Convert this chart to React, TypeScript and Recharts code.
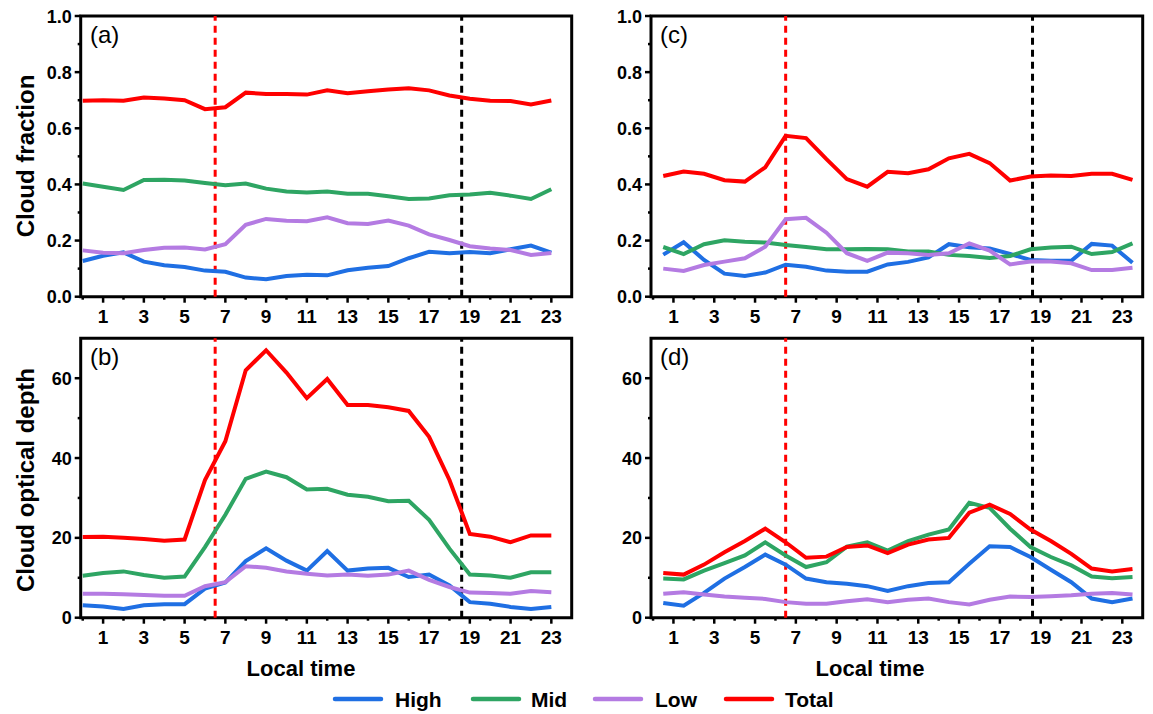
import React from "react";
import { Line, LineChart, ReferenceArea, ReferenceLine, XAxis, YAxis } from "recharts";

const PAGE_W = 1153;
const PAGE_H = 714;
const FONT = "'Liberation Sans', Arial, sans-serif";

const hoursWhole = [0, 1, 2, 3, 4, 5, 6, 7, 8, 9, 10, 11, 12, 13, 14, 15, 16, 17, 18, 19, 20, 21, 22, 23];
const hoursHalf = [0.5, 1.5, 2.5, 3.5, 4.5, 5.5, 6.5, 7.5, 8.5, 9.5, 10.5, 11.5, 12.5, 13.5, 14.5, 15.5, 16.5, 17.5, 18.5, 19.5, 20.5, 21.5, 22.5, 23.5];
const hourTicks = [0, 1, 2, 3, 4, 5, 6, 7, 8, 9, 10, 11, 12, 13, 14, 15, 16, 17, 18, 19, 20, 21, 22, 23];
const fractionTicks = [0, 0.1, 0.2, 0.3, 0.4, 0.5, 0.6, 0.7, 0.8, 0.9, 1.0];
const depthTicks = [0, 10, 20, 30, 40, 50, 60];
const sunrise = 6.5;
const sunset = 18.6;

// (a) cloud fraction
const fracHighA = [0.127, 0.146, 0.158, 0.125, 0.112, 0.106, 0.093, 0.089, 0.068, 0.062, 0.074, 0.078, 0.076, 0.094, 0.103, 0.109, 0.137, 0.16, 0.155, 0.159, 0.155, 0.169, 0.182, 0.157];
const fracMidA = [0.403, 0.392, 0.38, 0.416, 0.417, 0.414, 0.405, 0.397, 0.403, 0.385, 0.375, 0.371, 0.375, 0.367, 0.367, 0.358, 0.348, 0.35, 0.361, 0.364, 0.37, 0.36, 0.348, 0.383];
const fracLowA = [0.165, 0.157, 0.155, 0.166, 0.174, 0.175, 0.168, 0.187, 0.256, 0.277, 0.271, 0.269, 0.283, 0.262, 0.259, 0.271, 0.253, 0.222, 0.202, 0.18, 0.172, 0.166, 0.149, 0.156];
const fracTotalA = [0.698, 0.7, 0.698, 0.71, 0.706, 0.7, 0.668, 0.675, 0.727, 0.722, 0.722, 0.72, 0.735, 0.725, 0.732, 0.738, 0.743, 0.735, 0.717, 0.705, 0.698, 0.697, 0.685, 0.699];

// (c) cloud fraction
const fracHighC = [0.15, 0.194, 0.131, 0.082, 0.074, 0.086, 0.114, 0.107, 0.093, 0.089, 0.089, 0.115, 0.124, 0.14, 0.187, 0.176, 0.172, 0.152, 0.131, 0.128, 0.128, 0.188, 0.182, 0.121];
const fracMidC = [0.177, 0.152, 0.187, 0.201, 0.196, 0.193, 0.184, 0.177, 0.169, 0.169, 0.17, 0.169, 0.161, 0.161, 0.149, 0.145, 0.138, 0.145, 0.169, 0.175, 0.178, 0.152, 0.159, 0.19];
const fracLowC = [0.1, 0.092, 0.113, 0.125, 0.137, 0.178, 0.276, 0.281, 0.228, 0.155, 0.128, 0.157, 0.155, 0.149, 0.155, 0.19, 0.164, 0.115, 0.125, 0.125, 0.119, 0.095, 0.095, 0.103];
const fracTotalC = [0.43, 0.446, 0.438, 0.415, 0.41, 0.461, 0.573, 0.565, 0.49, 0.419, 0.392, 0.445, 0.44, 0.454, 0.493, 0.509, 0.476, 0.414, 0.428, 0.432, 0.43, 0.438, 0.438, 0.416];

// (b) cloud optical depth
const depthHighB = [3.1, 2.8, 2.2, 3.1, 3.4, 3.4, 7.3, 8.8, 14.2, 17.4, 14.3, 11.8, 16.7, 11.8, 12.3, 12.5, 10.2, 10.8, 8.1, 3.9, 3.5, 2.7, 2.2, 2.7];
const depthMidB = [10.5, 11.2, 11.6, 10.7, 10.0, 10.3, 17.7, 25.8, 34.8, 36.6, 35.2, 32.1, 32.3, 30.8, 30.3, 29.2, 29.3, 24.5, 17.3, 10.8, 10.6, 10.0, 11.4, 11.4];
const depthLowB = [6.0, 6.0, 5.9, 5.7, 5.5, 5.5, 7.9, 8.9, 12.9, 12.5, 11.6, 11.0, 10.6, 10.8, 10.5, 10.8, 11.8, 9.5, 7.7, 6.3, 6.2, 6.0, 6.7, 6.4];
const depthTotalB = [20.2, 20.3, 20.0, 19.7, 19.3, 19.6, 34.5, 44.2, 62.0, 67.0, 61.4, 55.0, 59.8, 53.3, 53.3, 52.7, 51.8, 45.3, 34.5, 21.0, 20.3, 18.9, 20.6, 20.6];

// (d) cloud optical depth
const depthHighD = [3.7, 3.0, 6.2, 9.8, 12.7, 15.8, 13.3, 9.8, 8.9, 8.5, 7.9, 6.7, 7.9, 8.7, 8.9, 13.5, 17.9, 17.7, 15.2, 12.0, 8.9, 4.8, 3.9, 4.8];
const depthMidD = [9.8, 9.6, 11.8, 13.7, 15.6, 18.9, 15.6, 12.7, 13.9, 17.8, 18.9, 16.8, 19.2, 20.8, 22.1, 28.8, 27.5, 22.3, 17.7, 15.2, 13.1, 10.3, 9.9, 10.2];
const depthLowD = [6.0, 6.4, 5.8, 5.3, 5.0, 4.7, 3.9, 3.5, 3.5, 4.1, 4.6, 3.9, 4.5, 4.8, 3.9, 3.3, 4.5, 5.3, 5.2, 5.4, 5.6, 6.0, 6.2, 5.8];
const depthTotalD = [11.2, 10.8, 13.3, 16.4, 19.2, 22.3, 18.9, 15.0, 15.3, 17.7, 18.1, 16.2, 18.3, 19.6, 20.0, 26.3, 28.3, 26.0, 22.1, 19.2, 16.0, 12.3, 11.6, 12.2];

const series = [
  { key: "high", label: "High", color: "#1f6fe3" },
  { key: "mid", label: "Mid", color: "#2ea563" },
  { key: "low", label: "Low", color: "#b47be2" },
  { key: "total", label: "Total", color: "#ff0000" }
] as const;

type Row = { hour: number; high: number; mid: number; low: number; total: number };

function buildRows(hours: number[], high: number[], mid: number[], low: number[], total: number[]): Row[] {
  return hours.map((hour, i) => ({ hour, high: high[i], mid: mid[i], low: low[i], total: total[i] }));
}

function HourTick(props: any) {
  const { x, y, payload } = props;
  const v = payload.value as number;
  const major = v % 2 === 1;
  return (
    <g>
      <line x1={x} x2={x} y1={y} y2={y + (major ? 6 : 3)} stroke="#000" strokeWidth={2.5} />
      {major && (
        <text x={x} y={y + 26} textAnchor="middle" fontFamily={FONT} fontWeight="bold" fontSize={19} fill="#000">
          {v}
        </text>
      )}
    </g>
  );
}

function makeValueTick(isMajor: (v: number) => boolean, format: (v: number) => string) {
  return (props: any) => {
    const { x, y, payload } = props;
    const v = payload.value as number;
    const major = isMajor(v);
    return (
      <g>
        <line x1={x} x2={x - (major ? 6 : 3)} y1={y} y2={y} stroke="#000" strokeWidth={2.5} />
        {major && (
          <text x={x - 9} y={y + 6.5} textAnchor="end" fontFamily={FONT} fontWeight="bold" fontSize={18} fill="#000">
            {format(v)}
          </text>
        )}
      </g>
    );
  };
}

const fractionTick = makeValueTick(
  (v) => Math.round(v * 10) % 2 === 0,
  (v) => v.toFixed(1)
);
const depthTick = makeValueTick(
  (v) => Math.round(v) % 20 === 0,
  (v) => String(v)
);

const X_DOMAIN: [number, number] = [-0.1, 24];

function Panel({
  rows,
  box,
  yDomain,
  yTicks,
  tick
}: {
  rows: Row[];
  box: [number, number, number, number];
  yDomain: [number, number];
  yTicks: number[];
  tick: (p: any) => React.ReactElement;
}) {
  const [x0, y0, x1, y1] = box;
  return (
    <div style={{ position: "absolute", left: 0, top: 0 }}>
      <LineChart
        width={PAGE_W}
        height={PAGE_H}
        data={rows}
        margin={{ top: y0, left: x0 - 40, right: PAGE_W - x1, bottom: PAGE_H - y1 - 30 }}
      >
        <XAxis
          dataKey="hour"
          type="number"
          domain={X_DOMAIN}
          ticks={hourTicks}
          interval={0}
          height={30}
          tickSize={0}
          tickMargin={0}
          tickLine={false}
          axisLine={false}
          tick={<HourTick />}
          allowDataOverflow
        />
        <YAxis
          type="number"
          domain={yDomain}
          ticks={yTicks}
          interval={0}
          width={40}
          tickSize={0}
          tickMargin={0}
          tickLine={false}
          axisLine={false}
          tick={tick}
          allowDataOverflow
        />
        <ReferenceLine x={sunrise} stroke="#ff0000" strokeWidth={3} strokeDasharray="7 5" />
        <ReferenceLine x={sunset} stroke="#000000" strokeWidth={3} strokeDasharray="7 5" />
        {series.map((s) => (
          <Line
            key={s.key}
            type="linear"
            dataKey={s.key}
            name={s.label}
            stroke={s.color}
            strokeWidth={4}
            dot={false}
            activeDot={false}
            isAnimationActive={false}
          />
        ))}
        <ReferenceArea
          x1={X_DOMAIN[0]}
          x2={X_DOMAIN[1]}
          y1={yDomain[0]}
          y2={yDomain[1]}
          fill="none"
          fillOpacity={0}
          stroke="#000"
          strokeWidth={3}
        />
      </LineChart>
    </div>
  );
}

const panelLabels = [
  { text: "(a)", x: 90, y: 43 },
  { text: "(c)", x: 660, y: 43 },
  { text: "(b)", x: 90, y: 365 },
  { text: "(d)", x: 660, y: 365 }
];

const legendItems = [
  { x: 335, textX: 395 },
  { x: 473, textX: 531 },
  { x: 595, textX: 655 },
  { x: 726, textX: 785 }
];

export default function App() {
  return (
    <div style={{ position: "absolute", left: 0, top: 0, width: PAGE_W, height: PAGE_H, background: "#fff" }}>
      <Panel
        rows={buildRows(hoursWhole, fracHighA, fracMidA, fracLowA, fracTotalA)}
        box={[80.7, 16, 571.7, 296.7]}
        yDomain={[0, 1]}
        yTicks={fractionTicks}
        tick={fractionTick}
      />
      <Panel
        rows={buildRows(hoursHalf, fracHighC, fracMidC, fracLowC, fracTotalC)}
        box={[651, 16, 1142.7, 296.7]}
        yDomain={[0, 1]}
        yTicks={fractionTicks}
        tick={fractionTick}
      />
      <Panel
        rows={buildRows(hoursWhole, depthHighB, depthMidB, depthLowB, depthTotalB)}
        box={[80.7, 338.3, 571.7, 617.7]}
        yDomain={[0, 70]}
        yTicks={depthTicks}
        tick={depthTick}
      />
      <Panel
        rows={buildRows(hoursHalf, depthHighD, depthMidD, depthLowD, depthTotalD)}
        box={[651, 338.3, 1142.7, 617.7]}
        yDomain={[0, 70]}
        yTicks={depthTicks}
        tick={depthTick}
      />
      <svg width={PAGE_W} height={PAGE_H} style={{ position: "absolute", left: 0, top: 0, pointerEvents: "none" }}>
        {panelLabels.map((p) => (
          <text key={p.text} x={p.x} y={p.y} fontFamily={FONT} fontSize={24} fill="#000">
            {p.text}
          </text>
        ))}
        <text
          x={34}
          y={156}
          transform="rotate(-90, 34, 156)"
          textAnchor="middle"
          fontFamily={FONT}
          fontWeight="bold"
          fontSize={24}
          fill="#000"
        >
          Cloud fraction
        </text>
        <text
          x={34}
          y={480}
          transform="rotate(-90, 34, 480)"
          textAnchor="middle"
          fontFamily={FONT}
          fontWeight="bold"
          fontSize={24}
          fill="#000"
        >
          Cloud optical depth
        </text>
        <text x={301} y={676} textAnchor="middle" fontFamily={FONT} fontWeight="bold" fontSize={22} fill="#000">
          Local time
        </text>
        <text x={870} y={676} textAnchor="middle" fontFamily={FONT} fontWeight="bold" fontSize={22} fill="#000">
          Local time
        </text>
        {series.map((s, i) => (
          <g key={s.key}>
            <line x1={legendItems[i].x} x2={legendItems[i].x + 46} y1={699} y2={699} stroke={s.color} strokeWidth={4.5} strokeLinecap="round" />
            <text x={legendItems[i].textX} y={706.5} fontFamily={FONT} fontWeight="bold" fontSize={21} fill="#000">
              {s.label}
            </text>
          </g>
        ))}
      </svg>
    </div>
  );
}
